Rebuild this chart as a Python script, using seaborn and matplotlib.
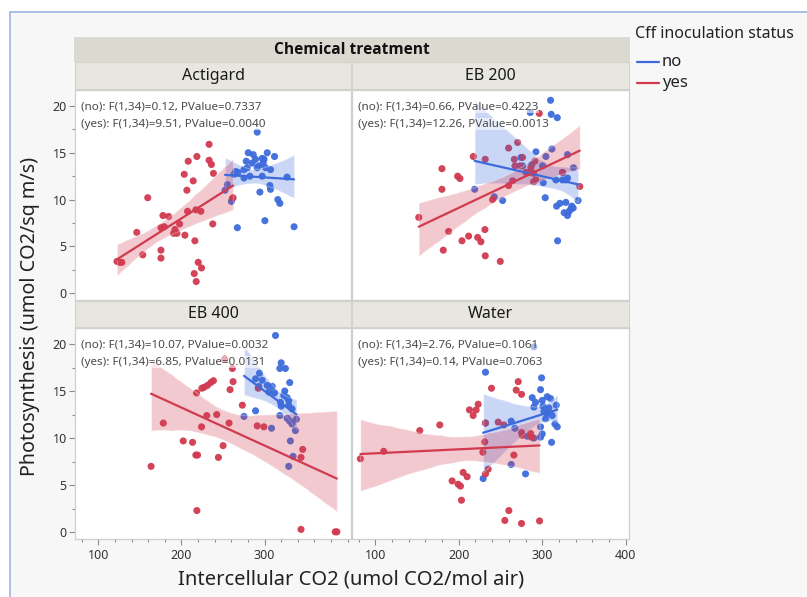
import numpy as np
import pandas as pd
import matplotlib
matplotlib.use("Agg")
import matplotlib.pyplot as plt
from matplotlib.patches import Rectangle
from matplotlib.lines import Line2D
from matplotlib.ticker import MultipleLocator, FixedLocator
import seaborn as sns

# ---------------- data ----------------
treatments = ["Actigard", "EB 200", "EB 400", "Water"]
statuses = ["no", "yes"]

act_yes_x = [233.3, 218.6, 208.2, 233.3, 236.1, 203.4, 238.5, 214.2, 206.6, 159.5, 207.4, 217.4,
             223.4, 177.8, 184.6, 197.8, 237.7, 146.3, 175.4, 179.4, 192.2, 190.6, 194.6, 204.2,
             216.2, 153.5, 175.4, 175.4, 220.2, 224.2, 215.4, 217.8, 122.5, 125.3, 128.3, 262.1]
act_yes_y = [15.9, 14.6, 14.1, 14.2, 13.75, 12.7, 12.8, 12.0, 11.0, 10.2, 8.75, 8.9,
             8.75, 8.3, 8.2, 7.4, 7.4, 6.5, 7.0, 7.1, 6.8, 6.4, 6.4, 6.2,
             5.6, 4.1, 4.6, 3.75, 3.3, 2.7, 2.1, 1.25, 3.4, 3.3, 3.3, 10.2]
act_no_x = [291.2, 280.4, 286.4, 303.2, 312.0, 278.0, 289.2, 297.2, 298.4, 293.2, 279.2, 291.2,
            301.2, 307.2, 265.3, 268.1, 275.3, 282.4, 297.2, 327.1, 255.3, 306.4, 307.2, 294.4,
            316.0, 318.4, 261.3, 267.3, 300.4, 335.5, 285.2, 275.3, 299.4, 263.3, 252.5, 260.1]
act_no_y = [17.2, 15.0, 14.8, 15.0, 14.6, 14.1, 14.3, 14.4, 13.9, 13.6, 13.4, 13.4,
            13.4, 13.2, 13.0, 12.9, 12.3, 12.5, 12.5, 12.4, 11.6, 11.5, 11.1, 10.8,
            10.0, 9.6, 10.1, 7.0, 7.75, 7.1, 13.9, 13.2, 14.3, 12.7, 11.0, 9.8]

eb2_yes_x = [296.4, 270.5, 259.7, 217.4, 231.7, 266.5, 276.4, 267.3, 273.3, 179.8, 198.6, 201.4,
             291.2, 286.5, 280.4, 284.4, 289.6, 264.5, 259.7, 289.6, 292.4, 345.0, 179.8, 240.5,
             152.0, 187.8, 211.8, 203.8, 222.6, 226.5, 231.3, 181.4, 231.7, 249.7, 324.3]
eb2_yes_y = [19.2, 16.1, 15.5, 14.6, 14.3, 14.3, 14.5, 13.6, 13.6, 13.3, 12.5, 12.25,
             14.1, 13.4, 12.9, 12.9, 12.8, 12.0, 11.5, 11.9, 12.1, 11.4, 11.1, 10.0,
             8.1, 6.6, 6.1, 5.6, 5.96, 5.5, 6.8, 4.6, 4.0, 3.4, 12.9]
eb2_no_x = [310.0, 285.6, 310.8, 318.0, 292.4, 311.6, 304.4, 330.3, 274.5, 276.4, 287.6, 300.4,
            324.3, 337.5, 330.3, 316.4, 324.3, 328.3, 301.2, 219.0, 242.5, 252.5, 303.6, 343.0,
            317.2, 321.2, 328.3, 335.5, 326.3, 330.3, 332.3, 334.3, 337.1, 318.4]
eb2_no_y = [20.6, 19.3, 19.1, 18.75, 15.1, 15.4, 14.6, 14.8, 14.5, 13.6, 13.75, 13.6,
            12.9, 13.4, 12.3, 12.1, 12.1, 12.1, 11.8, 11.1, 10.3, 9.9, 10.2, 9.9,
            9.3, 9.6, 9.7, 9.3, 8.6, 8.3, 8.75, 9.0, 9.1, 5.6]

eb4_yes_x = [252.1, 261.3, 262.1, 258.5, 238.5, 235.3, 231.3, 227.3, 224.6, 218.2, 292.4, 273.3,
             230.5, 242.5, 257.3, 224.2, 178.2, 291.2, 299.2, 202.2, 213.4, 250.1, 217.4, 219.4,
             244.5, 345.9, 343.9, 163.5, 218.6, 343.9, 385.0, 387.0]
eb4_yes_y = [18.4, 17.4, 16.0, 15.15, 16.1, 15.9, 15.6, 15.4, 15.3, 14.8, 15.3, 13.5,
             12.4, 12.5, 11.6, 11.2, 11.6, 11.3, 11.2, 9.7, 9.55, 9.2, 8.2, 8.2,
             7.95, 8.8, 7.95, 7.0, 2.3, 0.3, 0.04, 0.04]
eb4_no_x = [313.2, 320.0, 318.4, 325.1, 294.0, 289.2, 297.2, 303.2, 309.2, 330.3, 324.3, 305.2,
            312.0, 323.1, 327.1, 329.1, 320.0, 319.2, 329.1, 333.1, 318.4, 327.1, 338.3, 330.3,
            333.1, 289.2, 275.3, 308.4, 337.1, 331.1, 334.3, 329.1, 293.2]
eb4_no_y = [20.9, 18.0, 17.4, 17.4, 16.9, 16.3, 16.15, 15.6, 15.5, 15.9, 15.0, 14.9,
            14.8, 14.55, 14.3, 14.0, 13.4, 13.8, 13.5, 13.1, 12.4, 12.1, 12.0, 11.8,
            11.5, 12.9, 12.3, 11.05, 10.8, 9.7, 8.06, 7.0, 15.5]

wat_yes_x = [239.2, 271.2, 268.8, 275.2, 223.2, 212.8, 220.8, 217.2, 177.2, 153.2, 232.0, 247.2,
             254.0, 275.2, 276.0, 286.0, 287.2, 110.0, 82.0, 231.2, 228.8, 266.0, 235.2, 232.0,
             205.2, 210.0, 192.0, 199.2, 202.0, 203.2, 260.0, 255.2, 275.2, 296.8]
wat_yes_y = [15.3, 16.0, 15.1, 14.65, 13.6, 13.0, 13.0, 12.4, 11.4, 10.8, 11.6, 11.7,
             11.4, 10.6, 10.3, 10.5, 10.1, 8.6, 7.8, 9.6, 8.5, 8.2, 6.7, 6.2,
             6.35, 5.9, 5.45, 5.1, 4.9, 3.4, 2.3, 1.25, 0.93, 1.2]
wat_no_x = [290.0, 232.0, 299.2, 298.0, 288.0, 306.0, 310.0, 300.0, 292.0, 290.0, 300.8, 316.8,
            308.0, 302.0, 306.0, 312.0, 304.0, 315.2, 318.0, 262.8, 267.2, 232.0, 298.0, 282.0,
            290.0, 298.0, 300.0, 311.2, 262.8, 280.0, 229.2]
wat_no_y = [19.7, 17.0, 16.4, 15.15, 14.3, 14.4, 14.2, 14.0, 13.8, 13.3, 13.4, 13.5,
            13.2, 12.8, 12.6, 12.4, 12.05, 11.5, 11.2, 11.8, 11.05, 11.6, 11.2, 10.2,
            10.0, 10.1, 10.45, 9.55, 7.2, 6.2, 5.7]

stats_text = {
    "Actigard": ["(no): F(1,34)=0.12, PValue=0.7337", "(yes): F(1,34)=9.51, PValue=0.0040"],
    "EB 200": ["(no): F(1,34)=0.66, PValue=0.4223", "(yes): F(1,34)=12.26, PValue=0.0013"],
    "EB 400": ["(no): F(1,34)=10.07, PValue=0.0032", "(yes): F(1,34)=6.85, PValue=0.0131"],
    "Water": ["(no): F(1,34)=2.76, PValue=0.1061", "(yes): F(1,34)=0.14, PValue=0.7063"],
}

series = {
    ("Actigard", "no"): (act_no_x, act_no_y), ("Actigard", "yes"): (act_yes_x, act_yes_y),
    ("EB 200", "no"): (eb2_no_x, eb2_no_y), ("EB 200", "yes"): (eb2_yes_x, eb2_yes_y),
    ("EB 400", "no"): (eb4_no_x, eb4_no_y), ("EB 400", "yes"): (eb4_yes_x, eb4_yes_y),
    ("Water", "no"): (wat_no_x, wat_no_y), ("Water", "yes"): (wat_yes_x, wat_yes_y),
}
rows = []
for (t, s), (xs, ys) in series.items():
    for xv, yv in zip(xs, ys):
        rows.append({"treatment": t, "status": s, "ci": xv, "photo": yv})
df = pd.DataFrame(rows)

# ---------------- styling ----------------
sns.set_theme(style="white")
plt.rcParams["font.family"] = ["Noto Sans", "DejaVu Sans"]
BOLD_FAMILY = ["Open Sans", "Lato", "DejaVu Sans"]
BLUE = "#3d6bdb"
RED = "#d13a4f"
palette = {"no": BLUE, "yes": RED}

W, H = 807, 597
fig = plt.figure(figsize=(W / 100, H / 100), dpi=100)
fig.patch.set_facecolor("white")


def fx(x):
    return x / W


def fy(y):
    return 1 - y / H


# outer frame
fig.add_artist(Rectangle((fx(10), fy(600)), fx(810) - fx(10), fy(12) - fy(600),
                         transform=fig.transFigure, facecolor="#f7f7f7",
                         edgecolor="#9db6de", linewidth=1.2, zorder=0))

# header bands
fig.add_artist(Rectangle((fx(74), fy(62)), fx(630) - fx(74), fy(37) - fy(62),
                         transform=fig.transFigure, facecolor="#dcdad0",
                         edgecolor="none", zorder=1))
fig.text(fx(352), fy(50), "Chemical treatment", ha="center", va="center",
         fontsize=11.2, fontweight="bold", color="#111111", family=BOLD_FAMILY)

col_edges = [(75, 351), (352, 629)]
row_edges = [(90, 300), (328, 539)]
strip_rows = [(62, 89), (301, 327)]

layout = {"Actigard": (0, 0), "EB 200": (0, 1), "EB 400": (1, 0), "Water": (1, 1)}

for t, (r, c) in layout.items():
    x0, x1 = col_edges[c]
    s0, s1 = strip_rows[r]
    fig.add_artist(Rectangle((fx(x0), fy(s1)), fx(x1) - fx(x0), fy(s0) - fy(s1),
                             transform=fig.transFigure, facecolor="#e8e7df",
                             edgecolor="#d4d3cb", linewidth=0.8, zorder=1))
    fig.text(fx((x0 + x1) / 2), fy((s0 + s1) / 2 + 0.5), t, ha="center", va="center",
             fontsize=11.5, color="#1a1a1a")

    y0, y1 = row_edges[r]
    ax = fig.add_axes([fx(x0), fy(y1), fx(x1) - fx(x0), fy(y0) - fy(y1)])
    ax.set_facecolor("white")
    sub = df[df["treatment"] == t]

    # points first
    sns.scatterplot(data=sub, x="ci", y="photo", hue="status", palette=palette,
                    hue_order=statuses, s=26, alpha=0.95, edgecolor="none",
                    legend=False, ax=ax, zorder=2)
    # fits with confidence bands on top
    for s in statuses:
        g = sub[sub["status"] == s]
        n_before = len(ax.collections)
        sns.regplot(data=g, x="ci", y="photo", scatter=False, ci=95, n_boot=1000,
                    seed=3, color=palette[s], truncate=True,
                    line_kws={"linewidth": 1.6, "zorder": 4}, ax=ax)
        for coll in ax.collections[n_before:]:
            coll.set_alpha(0.27)
            coll.set_zorder(3)

    lines = stats_text[t]
    for i, line in enumerate(lines):
        ax.text(0.022, 0.919 - i * 0.081, line, transform=ax.transAxes,
                ha="left", va="center", fontsize=8.4, color="#4a4a4a", zorder=6,
                bbox=dict(boxstyle="square,pad=0.05", facecolor="white",
                          edgecolor="none", alpha=0.55))

    ax.set_xlim(72, 404)
    ax.set_ylim(-0.72, 21.7)
    ax.set_xlabel("")
    ax.set_ylabel("")
    for sp in ax.spines.values():
        sp.set_color("#cfcfcf")
        sp.set_linewidth(0.9)

    ax.tick_params(axis="both", which="both", direction="out", color="#8a8a8a",
                   labelcolor="#333333", labelsize=9, width=0.8)
    ax.tick_params(which="major", length=4)
    ax.tick_params(which="minor", length=2.5)

    if c == 0:
        ax.yaxis.set_major_locator(FixedLocator([0, 5, 10, 15, 20]))
        ax.yaxis.set_minor_locator(MultipleLocator(2.5))
        ax.tick_params(axis="y", left=True, which="both", pad=2)
    else:
        ax.tick_params(axis="y", left=False, labelleft=False, which="both")
        ax.set_yticks([])
    if r == 1:
        ax.xaxis.set_major_locator(FixedLocator([100, 200, 300] if c == 0 else [100, 200, 300, 400]))
        ax.xaxis.set_minor_locator(MultipleLocator(20))
        ax.tick_params(axis="x", bottom=True, which="both", pad=3)
    else:
        ax.tick_params(axis="x", bottom=False, labelbottom=False, which="both")
        ax.set_xticks([])

# axis titles
fig.text(fx(30), fy(316), "Photosynthesis (umol CO2/sq m/s)", rotation=90,
         ha="center", va="center", fontsize=14.2, color="#222222")
fig.text(fx(351), fy(580), "Intercellular CO2 (umol CO2/mol air)",
         ha="center", va="center", fontsize=14.5, color="#222222")

# legend
fig.text(fx(635), fy(34), "Cff inoculation status", ha="left", va="center",
         fontsize=11.5, color="#222222")
for i, s in enumerate(statuses):
    yy = fy(62 + i * 21)
    fig.add_artist(Line2D([fx(637), fx(659)], [yy, yy], transform=fig.transFigure,
                          color=palette[s], linewidth=1.6))
    fig.text(fx(662), yy, s, ha="left", va="center", fontsize=12, color="#222222")

fig.savefig("out.png", dpi=100, facecolor=fig.get_facecolor())
